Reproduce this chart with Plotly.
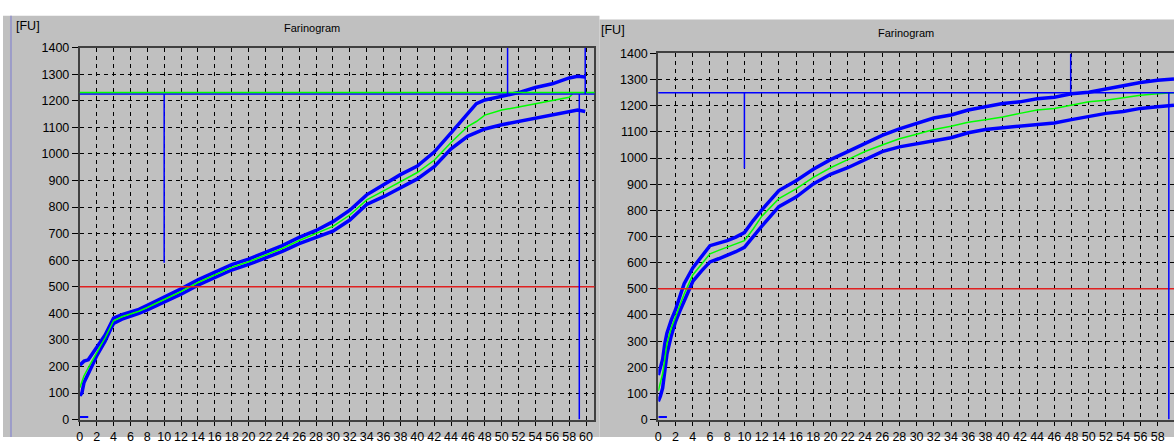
import plotly.graph_objects as go

W, H = 1174, 444

# ---------------- data ----------------
# Left farinogram
left_t = [0, 0.25, 0.5, 1, 1.5, 2, 2.5, 3, 3.5, 4, 5, 6, 7, 8, 9, 10, 12, 14, 16, 18, 20,
          22, 24, 26, 28, 30, 32, 34, 36, 38, 40, 42, 44, 46, 47, 48, 50, 52, 54, 56, 58, 59, 59.9]
left_upper = [205, 215, 220, 225, 250, 275, 295, 318, 350, 382, 395, 405, 415, 430, 445, 462, 492,
              526, 556, 583, 604, 630, 655, 686, 712, 745, 788, 846, 885, 922, 954, 1007, 1079,
              1152, 1189, 1203, 1216, 1231, 1250, 1264, 1286, 1292, 1290]
left_lower = [90, 100, 140, 170, 205, 240, 268, 295, 330, 362, 378, 388, 400, 413, 428, 444, 472,
              506, 536, 563, 584, 608, 633, 662, 686, 709, 751, 810, 839, 873, 906, 952, 1019,
              1067, 1079, 1094, 1110, 1122, 1134, 1146, 1158, 1165, 1160]
left_mid_t = [0, 0.25, 0.5, 1, 1.5, 2, 2.5, 3, 3.5, 4, 5, 6, 7, 8, 9, 10, 12, 14, 16, 18, 20,
              22, 24, 26, 28, 30, 32, 34, 36, 38, 40, 42, 44, 46, 47, 48, 50, 52, 54, 56, 58, 58.4]
left_mid = [120, 140, 165, 195, 225, 255, 280, 307, 340, 372, 387, 397, 408, 422, 437, 453, 482,
            516, 546, 573, 594, 619, 644, 674, 699, 727, 770, 827, 861, 897, 930, 976, 1043,
            1104, 1122, 1146, 1165, 1177, 1189, 1201, 1213, 1226]
left_target = 500
left_max_green = 1231
left_max_blue = 1226
left_dev_time = 10
left_dev_low = 590
left_stab_start = 50.7
left_end_a = 59.2
left_end_b = 59.9

# Right farinogram
right_t = [0, 0.25, 0.5, 0.75, 1, 1.5, 2, 2.5, 3, 4, 5, 6, 7, 8, 9, 10, 11, 12, 14, 16, 18, 20,
           22, 24, 26, 28, 30, 32, 34, 36, 38, 40, 42, 44, 46, 48, 50, 52, 54, 56, 58, 59.9]
right_upper = [170, 200, 230, 290, 330, 380, 420, 470, 520, 580, 625, 665, 675, 684, 698, 715, 760,
               801, 876, 913, 957, 994, 1025, 1056, 1087, 1112, 1134, 1153, 1165, 1184, 1196,
               1209, 1215, 1227, 1233, 1246, 1252, 1265, 1277, 1289, 1298, 1302]
right_mid = [110, 140, 175, 230, 290, 350, 395, 440, 480, 553, 595, 634, 647, 659, 670, 684, 728,
             777, 845, 882, 926, 963, 994, 1025, 1050, 1074, 1091, 1109, 1122, 1137, 1147, 1157,
             1171, 1184, 1190, 1202, 1215, 1221, 1231, 1240, 1246, 1250]
right_lower = [70, 90, 120, 190, 250, 320, 375, 415, 455, 528, 568, 603, 615, 628, 642, 659, 700,
               739, 814, 851, 901, 938, 963, 994, 1025, 1043, 1054, 1066, 1078, 1097, 1109, 1116,
               1122, 1128, 1134, 1147, 1159, 1171, 1178, 1190, 1196, 1202]
right_target = 500
right_max_blue = 1250
right_dev_time = 10
right_dev_low = 960
right_stab_start = 47.9
right_end = 59.3

start_mark_t = [0, 1]
start_mark_v = [10, 10]

y_ticks = list(range(0, 1401, 100))
x_ticks = list(range(0, 61, 2))

# ---------------- styling ----------------
BLUE = "#0000ff"
GREEN = "#00ff00"
RED = "#e02020"
GRAY = "#c0c0c0"
FONT = "Liberation Sans, Arial, sans-serif"

fig = go.Figure()

def band(xa, ya, t, up, mid_t, mid, lo):
    for yy in (up, lo):
        fig.add_trace(go.Scatter(x=t, y=yy, mode="lines", xaxis=xa, yaxis=ya,
                                 line=dict(color=BLUE, width=3.5), hoverinfo="skip", showlegend=False))
    fig.add_trace(go.Scatter(x=mid_t, y=mid, mode="lines", xaxis=xa, yaxis=ya,
                             line=dict(color=GREEN, width=1.5), hoverinfo="skip", showlegend=False))
    fig.add_trace(go.Scatter(x=start_mark_t, y=start_mark_v, mode="lines", xaxis=xa, yaxis=ya,
                             line=dict(color=BLUE, width=2), hoverinfo="skip", showlegend=False))

band("x", "y", left_t, left_upper, left_mid_t, left_mid, left_lower)
band("x2", "y2", right_t, right_upper, right_t, right_mid, right_lower)

def px_x(p):
    return p / W

def px_y(p):
    return 1 - p / H

axis_common = dict(
    showgrid=True, gridcolor="black", gridwidth=1, griddash="4px,4px",
    showline=True, linecolor="#404040", linewidth=2,
    ticks="outside", tickcolor="black", tickwidth=1,
    tickfont=dict(family=FONT, size=12.5, color="black"),
    zeroline=False, fixedrange=True,
)

fig.update_layout(
    width=W, height=H,
    margin=dict(l=0, r=0, t=0, b=0),
    paper_bgcolor="white", plot_bgcolor=GRAY,
    showlegend=False,
    xaxis=dict(domain=[px_x(77), px_x(593)], range=[0, 61], anchor="y",
               tickmode="array", tickvals=x_ticks, ticklen=4, tickangle=0, mirror=True,
               **axis_common),
    yaxis=dict(domain=[px_y(426), px_y(42)], range=[0, 1400], anchor="x",
               tickmode="array", tickvals=y_ticks, ticklen=6, mirror=True,
               **axis_common),
    xaxis2=dict(domain=[px_x(657), 1.0], range=[0, 59.9], anchor="y2",
                tickmode="array", tickvals=x_ticks, ticklen=4, tickangle=0, mirror=True,
                **axis_common),
    yaxis2=dict(domain=[px_y(426), px_y(48)], range=[0, 1400], anchor="x2",
                tickmode="array", tickvals=y_ticks, ticklen=6, mirror=False,
                **axis_common),
)

shapes = [
    # panel backgrounds
    dict(type="rect", xref="paper", yref="paper", x0=0, x1=px_x(598), y0=0, y1=px_y(9),
         fillcolor=GRAY, line=dict(width=0), layer="below"),
    dict(type="rect", xref="paper", yref="paper", x0=px_x(598), x1=1, y0=0, y1=px_y(13),
         fillcolor=GRAY, line=dict(width=0), layer="below"),
    dict(type="line", xref="paper", yref="paper", x0=px_x(8), x1=px_x(8), y0=0, y1=px_y(9),
         line=dict(color="#9c9cc8", width=2)),
    # left chart markers
    dict(type="line", xref="x domain", yref="y", x0=0, x1=1, y0=left_target, y1=left_target,
         line=dict(color=RED, width=1.5)),
    dict(type="line", xref="x domain", yref="y", x0=0, x1=1, y0=left_max_blue, y1=left_max_blue,
         line=dict(color=BLUE, width=1.5)),
    dict(type="line", xref="x domain", yref="y", x0=0, x1=1, y0=left_max_green, y1=left_max_green,
         line=dict(color=GREEN, width=1.5)),
    dict(type="line", xref="x", yref="y", x0=left_dev_time, x1=left_dev_time,
         y0=left_dev_low, y1=left_max_blue, line=dict(color=BLUE, width=1.5)),
    dict(type="line", xref="x", yref="y", x0=left_stab_start, x1=left_stab_start,
         y0=left_max_blue, y1=1400, line=dict(color=BLUE, width=1.5)),
    dict(type="line", xref="x", yref="y", x0=left_end_a, x1=left_end_a,
         y0=0, y1=left_max_blue, line=dict(color=BLUE, width=1.5)),
    dict(type="line", xref="x", yref="y", x0=left_end_b, x1=left_end_b,
         y0=left_max_blue, y1=1400, line=dict(color=BLUE, width=1.5)),
    # right chart markers
    dict(type="line", xref="x2 domain", yref="y2", x0=0, x1=1, y0=right_target, y1=right_target,
         line=dict(color=RED, width=1.5)),
    dict(type="line", xref="x2 domain", yref="y2", x0=0, x1=1, y0=right_max_blue, y1=right_max_blue,
         line=dict(color=BLUE, width=1.5)),
    dict(type="line", xref="x2", yref="y2", x0=right_dev_time, x1=right_dev_time,
         y0=right_dev_low, y1=right_max_blue, line=dict(color=BLUE, width=1.5)),
    dict(type="line", xref="x2", yref="y2", x0=right_stab_start, x1=right_stab_start,
         y0=right_max_blue, y1=1400, line=dict(color=BLUE, width=1.5)),
    dict(type="line", xref="x2", yref="y2", x0=right_end, x1=right_end,
         y0=0, y1=right_max_blue, line=dict(color=BLUE, width=1.5)),
]
fig.update_layout(shapes=shapes)

def label(text, x, y, xanchor, size):
    return dict(text=text, x=px_x(x), y=px_y(y), xref="paper", yref="paper",
                xanchor=xanchor, yanchor="middle", showarrow=False,
                font=dict(family=FONT, size=size, color="black"))

fig.update_layout(annotations=[
    label("[FU]", 11, 20, "left", 12.5),
    label("Farinogram", 310, 22, "center", 11),
    label("[FU]", 598, 24, "left", 12.5),
    label("Farinogram", 905, 27, "center", 11),
])

fig.write_html(
    "out.html",
    config={"displayModeBar": False, "staticPlot": True},
    post_script="document.body.style.margin='0';document.body.style.overflow='hidden';",
)
